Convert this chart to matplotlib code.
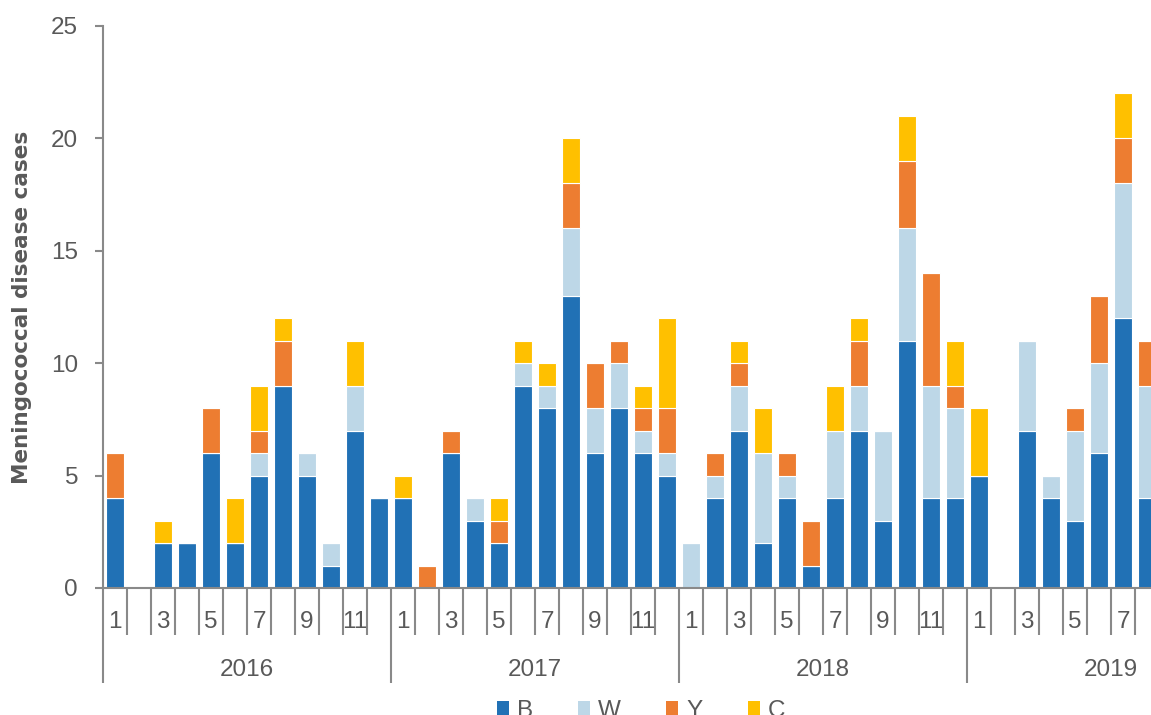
import matplotlib
matplotlib.use("Agg")
import matplotlib.pyplot as plt
from matplotlib.patches import Patch
import matplotlib.transforms as mtransforms
import numpy as np

plt.rcParams['font.family'] = ['Liberation Sans', 'DejaVu Sans']

years = ["2016", "2017", "2018", "2019"]
months_per_year = 12
month_labels = ["1", "", "3", "", "5", "", "7", "", "9", "", "11", ""]
series_names = ["B", "W", "Y", "C"]
colors = ["#2171B5", "#BDD7E7", "#ED7D31", "#FFC000"]

B = [4, 0, 2, 2, 6, 2, 5, 9, 5, 1, 7, 4,
     4, 0, 6, 3, 2, 9, 8, 13, 6, 8, 6, 5,
     0, 4, 7, 2, 4, 1, 4, 7, 3, 11, 4, 4,
     5, 0, 7, 4, 3, 6, 12, 4]
W = [0, 0, 0, 0, 0, 0, 1, 0, 1, 1, 2, 0,
     0, 0, 0, 1, 0, 1, 1, 3, 2, 2, 1, 1,
     2, 1, 2, 4, 1, 0, 3, 2, 4, 5, 5, 4,
     0, 0, 4, 1, 4, 4, 6, 5]
Y = [2, 0, 0, 0, 2, 0, 1, 2, 0, 0, 0, 0,
     0, 1, 1, 0, 1, 0, 0, 2, 2, 1, 1, 2,
     0, 1, 1, 0, 1, 2, 0, 2, 0, 3, 5, 1,
     0, 0, 0, 0, 1, 3, 2, 2]
C = [0, 0, 1, 0, 0, 2, 2, 1, 0, 0, 2, 0,
     1, 0, 0, 0, 1, 1, 1, 2, 0, 0, 1, 4,
     0, 0, 1, 2, 0, 0, 2, 1, 0, 2, 0, 2,
     3, 0, 0, 0, 0, 0, 2, 0]
series = [B, W, Y, C]

W_PX, H_PX, DPI = 1151, 715, 100
fig = plt.figure(figsize=(W_PX / DPI, H_PX / DPI), dpi=DPI)

# axes in pixel geometry (extends beyond right edge of the figure, as in the cropped reference)
left_px, zero_px, top_px = 103, 588, 26
slot_px = 24.0
n_slots = len(years) * months_per_year
ax = fig.add_axes([left_px / W_PX, (H_PX - zero_px) / H_PX,
                   n_slots * slot_px / W_PX, (zero_px - top_px) / H_PX])

x = np.arange(len(B))
bottom = np.zeros(len(B))
for name, vals, col in zip(series_names, series, colors):
    ax.bar(x, vals, width=0.75, bottom=bottom, color=col, edgecolor="white",
           linewidth=0.8, label=name)
    bottom += np.array(vals)

ax.set_xlim(-0.5, n_slots - 0.5)
ax.set_ylim(0, 25)
ax.set_yticks([0, 5, 10, 15, 20, 25])

axis_col = "#898989"
text_col = "#595959"
fs = 17.5
for s in ["top", "right"]:
    ax.spines[s].set_visible(False)
ax.spines["left"].set_color(axis_col)
ax.spines["bottom"].set_color(axis_col)
ax.spines["left"].set_linewidth(1.5)
ax.spines["bottom"].set_linewidth(1.5)
ax.tick_params(axis="y", colors=axis_col, length=6, width=1.5, labelsize=fs,
               labelcolor=text_col, pad=12)
ax.set_xticks([])

ax.set_ylabel("Meningococcal disease cases", fontsize=15.5, fontweight="bold",
              color=text_col, family=["DejaVu Sans"])
ax.yaxis.set_label_coords(-0.0616, 0.5)

# multi-level category axis
ax_h_px = zero_px - top_px
trans = mtransforms.blended_transform_factory(ax.transData, ax.transAxes)
month_line_bot = -47 / ax_h_px
year_line_bot = -95 / ax_h_px
month_lab_y = -34 / ax_h_px
year_lab_y = -82 / ax_h_px
for i in range(n_slots + 1):
    xb = i - 0.5
    ybot = year_line_bot if i % months_per_year == 0 else month_line_bot
    ax.plot([xb, xb], [0, ybot], transform=trans, color=axis_col, lw=1.5,
            clip_on=False, solid_capstyle="butt")
n_visible = len(B)
for yi, yr in enumerate(years):
    for mi, ml in enumerate(month_labels):
        idx = yi * months_per_year + mi
        if ml and idx < n_visible:
            ax.text(idx, month_lab_y, ml, transform=trans,
                    ha="center", va="center", fontsize=fs, color=text_col,
                    clip_on=False)
    ax.text(yi * months_per_year + (months_per_year - 1) / 2, year_lab_y, yr,
            transform=trans, ha="center", va="center", fontsize=fs,
            color=text_col, clip_on=False)

handles = [Patch(facecolor=c, edgecolor="none", label=n)
           for n, c in zip(series_names, colors)]
leg = fig.legend(handles=handles, loc="upper center", ncol=4,
                 bbox_to_anchor=(0.557, 0.021), frameon=False, fontsize=fs,
                 handlelength=0.5, handleheight=0.5, handletextpad=0.33,
                 columnspacing=1.85, borderpad=0, borderaxespad=0)
for t in leg.get_texts():
    t.set_color(text_col)

fig.savefig("out.png", dpi=DPI)
